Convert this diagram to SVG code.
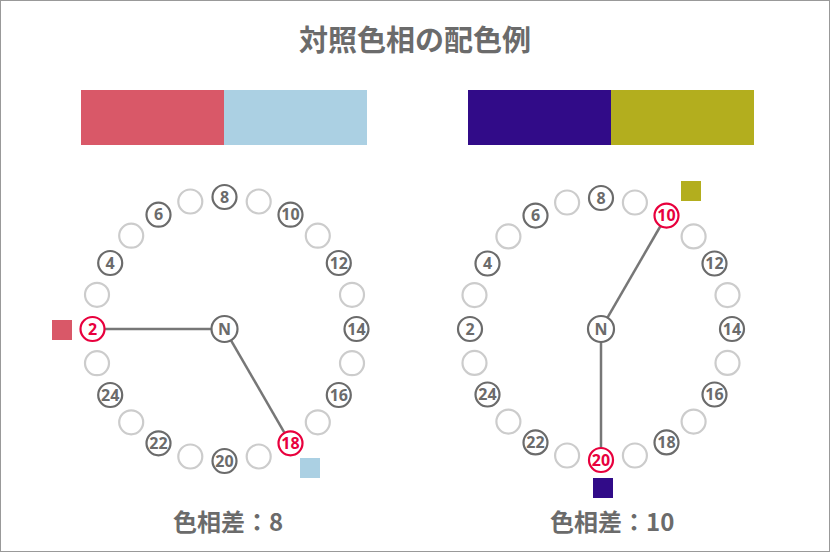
<svg xmlns="http://www.w3.org/2000/svg" width="830" height="552" viewBox="0 0 830 552">
<style>
.t{font-family:"Noto Sans CJK JP","Noto Sans",sans-serif;font-weight:bold;fill:#6b6b6b}
.g{fill:#fff;stroke:#cccccc;stroke-width:2.2}
.d{fill:#fff;stroke:#6b6b6b;stroke-width:2.2}
.r{fill:#fff;stroke:#e8003d;stroke-width:2.2}
.n{font-family:"Noto Sans","Open Sans",sans-serif;font-weight:bold;font-size:16px;fill:#6b6b6b;text-anchor:middle}
.nr{font-family:"Noto Sans","Open Sans",sans-serif;font-weight:bold;font-size:16px;fill:#e8003d;text-anchor:middle}
.ln{stroke:#777;stroke-width:2.5;fill:none}
</style>
<rect x="0.5" y="0.5" width="829" height="551" fill="#fff" stroke="#999" stroke-width="1"/>
<text class="t" x="415" y="51" font-size="29" text-anchor="middle">対照色相の配色例</text>

<g id="bar-left">
<rect x="81" y="90" width="143" height="55" fill="#d95868"/>
<rect x="224" y="90" width="143" height="55" fill="#abd0e3"/>
</g>
<g id="bar-right">
<rect x="468" y="90" width="143" height="55" fill="#310b88"/>
<rect x="611" y="90" width="143" height="55" fill="#b3ae1e"/>
</g>

<g id="connectors">
<line class="ln" x1="105" y1="329" x2="211.5" y2="329"/>
<line class="ln" x1="231" y1="340.3" x2="284.5" y2="432.9"/>
<line class="ln" x1="607.5" y1="317.7" x2="660.5" y2="226"/>
<line class="ln" x1="601" y1="342" x2="601" y2="448"/>
</g>

<g id="wheel-left">
<circle class="g" cx="97" cy="363.2" r="12"/>
<g id="L2"><circle class="r" cx="92.5" cy="329" r="12"/><text class="nr" x="92.5" y="334.5">2</text></g>
<circle class="g" cx="97" cy="294.8" r="12"/>
<g id="L4"><circle class="d" cx="110.2" cy="263" r="12"/><text class="n" x="110.2" y="268.5">4</text></g>
<circle class="g" cx="131.2" cy="235.7" r="12"/>
<g id="L6"><circle class="d" cx="158.5" cy="214.7" r="12"/><text class="n" x="158.5" y="220.2">6</text></g>
<circle class="g" cx="190.3" cy="201.5" r="12"/>
<g id="L8"><circle class="d" cx="224.5" cy="197" r="12"/><text class="n" x="224.5" y="202.5">8</text></g>
<circle class="g" cx="258.7" cy="201.5" r="12"/>
<g id="L10"><circle class="d" cx="290.5" cy="214.7" r="12"/><text class="n" x="290.5" y="220.2">10</text></g>
<circle class="g" cx="317.8" cy="235.7" r="12"/>
<g id="L12"><circle class="d" cx="338.8" cy="263" r="12"/><text class="n" x="338.8" y="268.5">12</text></g>
<circle class="g" cx="352" cy="294.8" r="12"/>
<g id="L14"><circle class="d" cx="356.5" cy="329" r="12"/><text class="n" x="356.5" y="334.5">14</text></g>
<circle class="g" cx="352" cy="363.2" r="12"/>
<g id="L16"><circle class="d" cx="338.8" cy="395" r="12"/><text class="n" x="338.8" y="400.5">16</text></g>
<circle class="g" cx="317.8" cy="422.3" r="12"/>
<g id="L18"><circle class="r" cx="290.5" cy="443.3" r="12"/><text class="nr" x="290.5" y="448.8">18</text></g>
<circle class="g" cx="258.7" cy="456.5" r="12"/>
<g id="L20"><circle class="d" cx="224.5" cy="461" r="12"/><text class="n" x="224.5" y="466.5">20</text></g>
<circle class="g" cx="190.3" cy="456.5" r="12"/>
<g id="L22"><circle class="d" cx="158.5" cy="443.3" r="12"/><text class="n" x="158.5" y="448.8">22</text></g>
<circle class="g" cx="131.2" cy="422.3" r="12"/>
<g id="L24"><circle class="d" cx="110.2" cy="395" r="12"/><text class="n" x="110.2" y="400.5">24</text></g>
<g id="LN"><circle class="d" cx="224.5" cy="329" r="13"/><text class="n" x="224.5" y="334.5">N</text></g>
<rect x="52" y="320" width="20" height="20" fill="#d95868"/>
<rect x="300" y="458" width="20" height="20" fill="#abd0e3"/>
</g>

<g id="wheel-right">
<circle class="g" cx="474.5" cy="362.9" r="12"/>
<g id="R2"><circle class="d" cx="470" cy="329" r="12"/><text class="n" x="470" y="334.5">2</text></g>
<circle class="g" cx="474.5" cy="295.1" r="12"/>
<g id="R4"><circle class="d" cx="487.5" cy="263.5" r="12"/><text class="n" x="487.5" y="269">4</text></g>
<circle class="g" cx="508.4" cy="236.4" r="12"/>
<g id="R6"><circle class="d" cx="535.5" cy="215.6" r="12"/><text class="n" x="535.5" y="221.1">6</text></g>
<circle class="g" cx="567.1" cy="202.5" r="12"/>
<g id="R8"><circle class="d" cx="601" cy="198" r="12"/><text class="n" x="601" y="203.5">8</text></g>
<circle class="g" cx="634.9" cy="202.5" r="12"/>
<g id="R10"><circle class="r" cx="666.5" cy="215.6" r="12"/><text class="nr" x="666.5" y="221.1">10</text></g>
<circle class="g" cx="693.6" cy="236.4" r="12"/>
<g id="R12"><circle class="d" cx="714.5" cy="263.5" r="12"/><text class="n" x="714.5" y="269">12</text></g>
<circle class="g" cx="727.5" cy="295.1" r="12"/>
<g id="R14"><circle class="d" cx="732" cy="329" r="12"/><text class="n" x="732" y="334.5">14</text></g>
<circle class="g" cx="727.5" cy="362.9" r="12"/>
<g id="R16"><circle class="d" cx="714.5" cy="394.5" r="12"/><text class="n" x="714.5" y="400">16</text></g>
<circle class="g" cx="693.6" cy="421.6" r="12"/>
<g id="R18"><circle class="d" cx="666.5" cy="442.4" r="12"/><text class="n" x="666.5" y="447.9">18</text></g>
<circle class="g" cx="634.9" cy="455.5" r="12"/>
<g id="R20"><circle class="r" cx="601" cy="460" r="12"/><text class="nr" x="601" y="465.5">20</text></g>
<circle class="g" cx="567.1" cy="455.5" r="12"/>
<g id="R22"><circle class="d" cx="535.5" cy="442.4" r="12"/><text class="n" x="535.5" y="447.9">22</text></g>
<circle class="g" cx="508.4" cy="421.6" r="12"/>
<g id="R24"><circle class="d" cx="487.5" cy="394.5" r="12"/><text class="n" x="487.5" y="400">24</text></g>
<g id="RN"><circle class="d" cx="601" cy="329" r="13"/><text class="n" x="601" y="334.5">N</text></g>
<rect x="681" y="181" width="20" height="20" fill="#b3ae1e"/>
<rect x="593" y="478" width="20" height="20" fill="#310b88"/>
</g>

<text class="t" x="173" y="531" font-size="24">色相差：8</text>
<text class="t" x="550" y="531" font-size="24">色相差：10</text>
</svg>
